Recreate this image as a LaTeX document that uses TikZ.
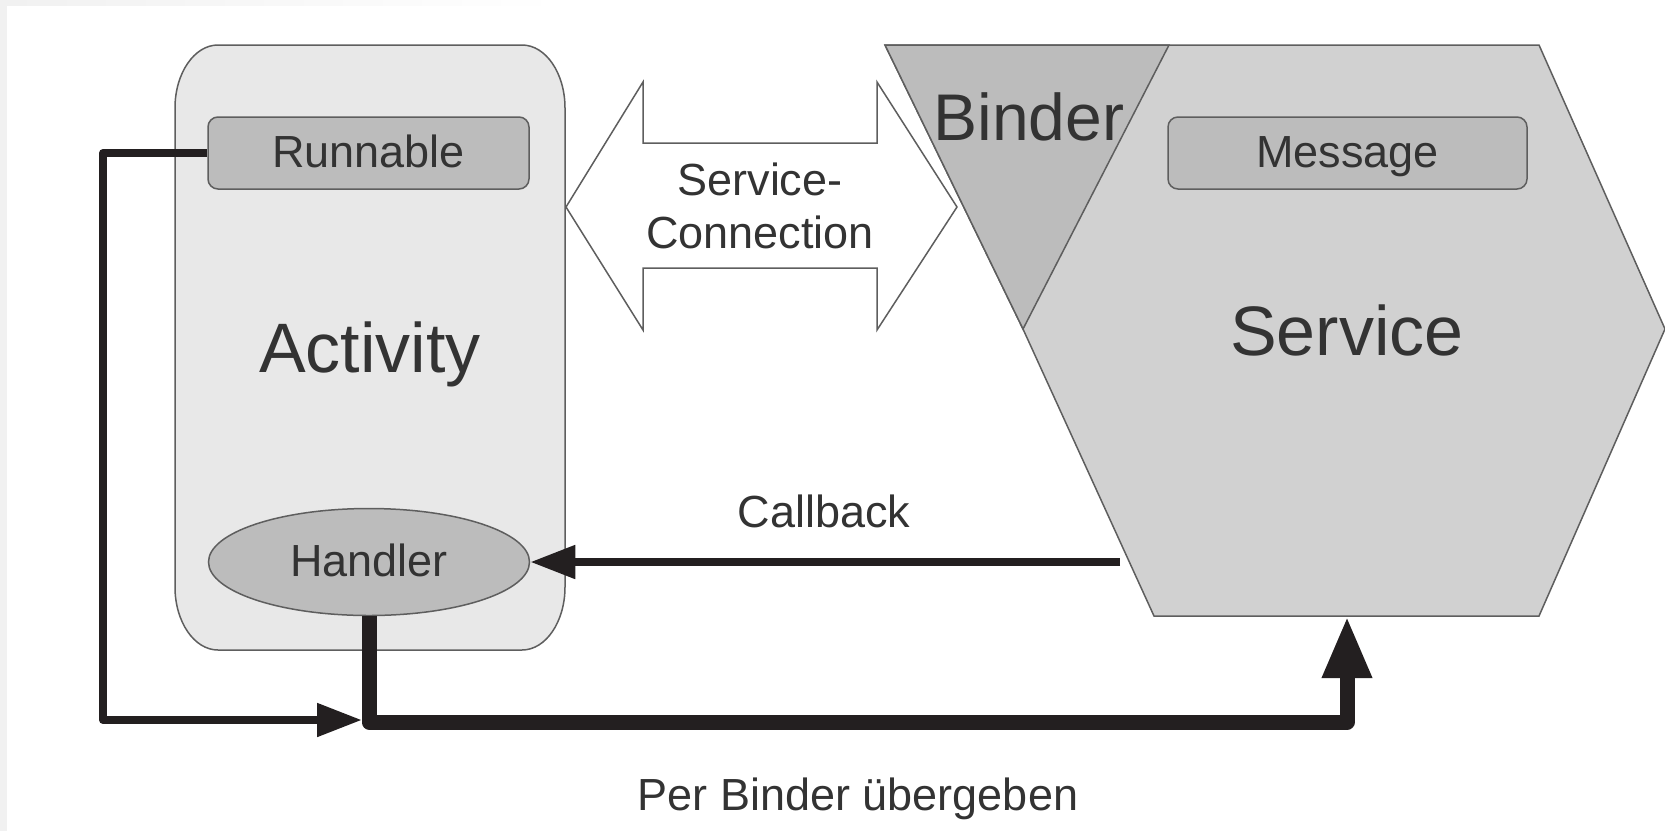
\documentclass[tikz,border=0pt]{standalone}
\usepackage{fontspec}
\setmainfont{Liberation Sans}
\usetikzlibrary{arrows.meta,shapes.geometric}

\definecolor{ink}{HTML}{231F20}
\definecolor{txt}{HTML}{333333}
\definecolor{edge}{HTML}{5E5E5E}
\definecolor{actfill}{HTML}{E8E8E8}
\definecolor{partfill}{HTML}{BCBCBC}
\definecolor{svcfill}{HTML}{D1D1D1}
\definecolor{frame}{HTML}{F1F1F1}

\tikzset{
  shape edge/.style={draw=edge, line width=1.5pt},
  part/.style={shape edge, fill=partfill, text=txt, inner sep=0pt,
    font=\fontsize{45}{54}\selectfont, text height=28pt, text depth=0pt},
  partbox/.style={part, rectangle, rounded corners=10pt},
  label/.style={text=txt, inner sep=0pt, anchor=base},
  small/.style={font=\fontsize{45}{54}\selectfont},
  big/.style={font=\fontsize{70}{80}\selectfont},
  thin flow/.style={draw=ink, line width=8pt, line join=round,
    -{Triangle[length=45pt,width=32pt]}},
  thick flow/.style={draw=ink, line width=15pt, line join=round,
    -{Triangle[length=62pt,width=46pt]}},
}

\begin{document}
\begin{tikzpicture}[x=1pt,y=-1pt]
  \useasboundingbox (0,0) rectangle (1665,831);

  % light page frame on the left and top
  \fill[frame] (0,0) rectangle (7,831);
  \shade[left color=frame, right color=white] (7,0) rectangle (560,5);

  % Activity: tall box with elliptical corners
  \path[shape edge, fill=actfill]
    (218,45) -- (522,45)
    .. controls (545.75,45) and (565,73.2) .. (565,108)
    -- (565,587)
    .. controls (565,621.8) and (545.75,650) .. (522,650)
    -- (218,650)
    .. controls (194.25,650) and (175,621.8) .. (175,587)
    -- (175,108)
    .. controls (175,73.2) and (194.25,45) .. (218,45) -- cycle;

  % Service hexagon with the Binder wedge on its upper left
  \coordinate (svctl) at (885,45);
  \coordinate (bindtip) at (1023,329);
  \path[shape edge, fill=svcfill]
    (svctl) -- (1539,45) -- (1665,329) -- (1539,616) -- (1154,616)
    -- (bindtip) -- cycle;
  \path[shape edge, fill=partfill]
    (svctl) -- (1169,45) -- (bindtip) -- cycle;

  % double arrow between Activity and Service
  \path[shape edge, fill=white]
    (566,207) -- (643,82) -- (643,143) -- (877,143) -- (877,82)
    -- (957,207) -- (877,330) -- (877,268) -- (643,268) -- (643,330)
    -- cycle;

  % inner parts
  \node[partbox, minimum width=321pt, minimum height=72pt]
    (runnable) at (368.5,153) {Runnable};
  \node[partbox, minimum width=359pt, minimum height=72pt]
    (message) at (1347.5,153) {Message};
  \node[part, ellipse, minimum width=321pt, minimum height=107pt]
    (handler) at (369,562) {Handler};

  % labels
  \node[label, big] (activity) at (370,372) {Activity};
  \node[label, big] (service) at (1347,355) {Service};
  \node[label, font=\fontsize{66}{76}\selectfont] (binder) at (1029,140) {Binder};
  \node[label, small] (sc1) at (760,195) {Service-};
  \node[label, small] (sc2) at (760,248) {Connection};
  \node[label, small] (callback) at (824,527) {Callback};
  \node[label, small] (perbinder) at (858,810) {Per Binder übergeben};

  % connectors
  \coordinate (cbstart) at (1120,562);
  \coordinate (rleft) at (103,720);
  \coordinate (join) at (362,720);
  \coordinate (hdown) at (369,722);
  \coordinate (sright) at (1347,722);
  \coordinate (svcbottom) at (1347,616);

  \draw[thin flow] (cbstart) -- (handler.east);
  \draw[thin flow] (runnable.west) -| (rleft) -- (join);
  \draw[thick flow] (handler.south) -- (hdown) -- (sright) -- (svcbottom);
\end{tikzpicture}
\end{document}
